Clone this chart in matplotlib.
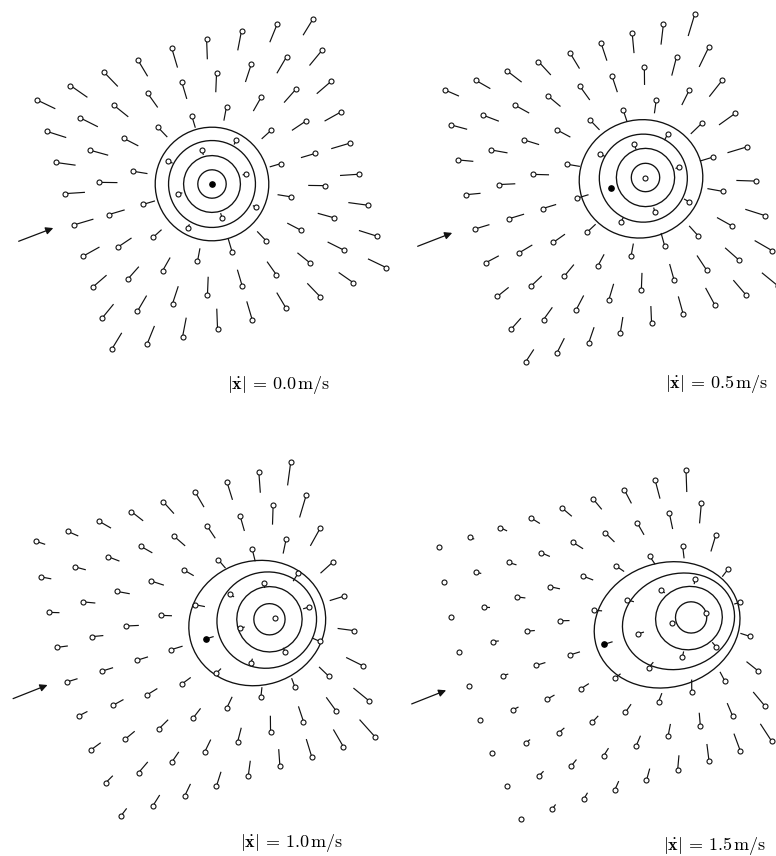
import numpy as np
import matplotlib.pyplot as plt
from matplotlib.patches import Ellipse
from matplotlib.collections import LineCollection
from matplotlib.transforms import Affine2D

plt.rcParams["mathtext.fontset"] = "cm"

# speed of the robot in each panel (m/s)
speeds = ["0.0", "0.5", "1.0", "1.5"]

# 9 x 9 sample grid in the robot frame (x = heading, y = left), index -4..4
grid_idx = np.arange(-4, 5)

# grid pitch (m): along the heading for each row, across it for each column
pitch_along = [
    [0.253, 0.253, 0.253, 0.253, 0.253, 0.253, 0.253, 0.253, 0.252],
    [0.230, 0.237, 0.243, 0.248, 0.250, 0.249, 0.246, 0.240, 0.232],
    [0.235, 0.244, 0.250, 0.254, 0.255, 0.254, 0.250, 0.243, 0.234],
    [0.228, 0.237, 0.244, 0.248, 0.250, 0.249, 0.245, 0.238, 0.231],
]
pitch_across = [
    [0.229, 0.237, 0.243, 0.247, 0.249, 0.247, 0.244, 0.237, 0.228],
    [0.250, 0.250, 0.250, 0.250, 0.249, 0.250, 0.250, 0.250, 0.250],
    [0.253, 0.253, 0.253, 0.253, 0.253, 0.253, 0.253, 0.253, 0.253],
    [0.250, 0.250, 0.250, 0.250, 0.251, 0.250, 0.250, 0.250, 0.250],
]

# contour rings: centre along the heading (m) and semi-axes (m), inner -> outer
ring_center = [
    [0.0, 0.0, 0.0, 0.0],
    [0.256, 0.256, 0.240, 0.223],
    [0.470, 0.470, 0.450, 0.380],
    [0.640, 0.624, 0.547, 0.463],
]
ring_a = [
    [0.100, 0.200, 0.306, 0.400],
    [0.100, 0.205, 0.310, 0.437],
    [0.110, 0.230, 0.352, 0.486],
    [0.110, 0.236, 0.400, 0.520],
]
ring_b = [
    [0.100, 0.200, 0.306, 0.400],
    [0.100, 0.205, 0.310, 0.415],
    [0.110, 0.230, 0.338, 0.437],
    [0.110, 0.222, 0.334, 0.437],
]

# stem length at each grid point (rows top -> bottom, columns back -> front)
stem_len = [
    [[.60, .62, .60, .58, .60, .60, .60, .58, .57],
     [.62, .60, .56, .52, .52, .58, .57, .58, .60],
     [.60, .58, .50, .42, .36, .43, .48, .55, .58],
     [.60, .55, .43, .17, .15, .15, .38, .50, .55],
     [.60, .50, .37, .15, .00, .12, .35, .45, .58],
     [.55, .48, .35, .12, .15, .12, .40, .50, .57],
     [.55, .50, .45, .40, .40, .40, .45, .52, .60],
     [.55, .55, .55, .55, .50, .48, .50, .55, .58],
     [.58, .57, .58, .60, .57, .55, .55, .53, .60]],
    [[.47, .50, .55, .55, .56, .57, .60, .63, .68],
     [.50, .50, .47, .50, .50, .50, .55, .58, .66],
     [.46, .50, .47, .45, .40, .35, .40, .50, .63],
     [.45, .48, .48, .40, .15, .18, .22, .45, .60],
     [.46, .48, .42, .37, .00, .00, .10, .40, .60],
     [.45, .45, .43, .35, .15, .13, .16, .46, .60],
     [.43, .45, .45, .40, .37, .40, .40, .50, .62],
     [.45, .45, .48, .50, .50, .50, .53, .57, .60],
     [.45, .48, .50, .50, .52, .56, .58, .60, .62]],
    [[.30, .35, .40, .45, .48, .53, .56, .62, .70],
     [.30, .35, .38, .40, .45, .45, .48, .58, .70],
     [.32, .38, .40, .42, .32, .33, .37, .45, .60],
     [.32, .35, .38, .34, .30, .16, .14, .30, .50],
     [.32, .35, .36, .36, .25, .14, .00, .20, .45],
     [.30, .36, .35, .33, .20, .13, .14, .25, .50],
     [.35, .37, .38, .37, .36, .30, .27, .40, .55],
     [.30, .42, .38, .42, .44, .48, .48, .52, .62],
     [.27, .38, .40, .45, .47, .52, .55, .60, .70]],
    [[.03, .15, .22, .30, .38, .40, .47, .58, .65],
     [.03, .15, .25, .30, .37, .40, .42, .50, .62],
     [.05, .18, .25, .30, .32, .28, .30, .38, .50],
     [.05, .18, .25, .28, .25, .20, .15, .15, .30],
     [.05, .18, .28, .30, .26, .18, .10, .05, .18],
     [.07, .17, .25, .28, .22, .22, .18, .18, .30],
     [.05, .17, .22, .27, .30, .28, .36, .32, .45],
     [.05, .20, .25, .28, .35, .37, .40, .42, .55],
     [.03, .17, .23, .28, .37, .45, .50, .55, .62]],
]

# layout
W, H = 776, 856
PX_PER_M = 142.0
STEM_SCALE = 0.235
heading = [16.5, 16.8, 17.2, 17.2]
panel_box = [(0, 0), (388, 0), (0, 428), (388, 428)]
dot_px = [(212, 184), (610.7, 188), (205.7, 639), (604.3, 644.3)]
label_px = [(279, 385), (717, 384), (292, 843), (715, 846)]

fig = plt.figure(figsize=(W / 100, H / 100), dpi=100)
fig.patch.set_facecolor("white")

for i in range(4):
    L, T = panel_box[i]
    pw, ph = 388, 428
    ax = fig.add_axes([L / W, 1 - (T + ph) / H, pw / W, ph / H])
    dx, dy = dot_px[i]
    ax.set_xlim((L - dx) / PX_PER_M, (L + pw - dx) / PX_PER_M)
    ax.set_ylim((dy - (T + ph)) / PX_PER_M, (dy - T) / PX_PER_M)
    ax.set_aspect("auto")
    ax.axis("off")

    tr = Affine2D().rotate_deg(heading[i]) + ax.transData
    target = ring_center[i][0]

    xs, ys, segs = [], [], []
    for r, gy in enumerate(grid_idx[::-1]):
        for c, gx in enumerate(grid_idx):
            x = gx * pitch_along[i][r]
            y = gy * pitch_across[i][c]
            xs.append(x)
            ys.append(y)
            vx, vy = target - x, -y
            n = np.hypot(vx, vy)
            ln = stem_len[i][r][c] * STEM_SCALE
            if n > 1e-9 and ln > 0:
                segs.append([(x, y), (x + vx / n * ln, y + vy / n * ln)])

    lc = LineCollection(segs, colors="#111111", linewidths=0.85,
                        transform=tr, clip_on=False, zorder=2)
    ax.add_collection(lc)

    xs = np.array(xs)
    ys = np.array(ys)
    centre = (xs == 0) & (ys == 0)
    ax.plot(xs[~centre], ys[~centre], "o", ms=3.6, mfc="white", mec="#111111",
            mew=0.8, transform=tr, clip_on=False, zorder=3)
    ax.plot(xs[centre], ys[centre], "o", ms=3.8, mfc="black", mec="black",
            transform=tr, clip_on=False, zorder=4)

    for k in range(4):
        e = Ellipse((ring_center[i][k], 0), 2 * ring_a[i][k], 2 * ring_b[i][k],
                    fill=False, ec="#111111", lw=0.95, transform=tr,
                    clip_on=False, zorder=1)
        ax.add_patch(e)

    ax.annotate("", xy=(-1.16, 0.02), xytext=(-1.42, 0.0),
                xycoords=tr, textcoords=tr,
                arrowprops=dict(arrowstyle="-|>", color="#111111", lw=0.9,
                                mutation_scale=11, shrinkA=0, shrinkB=0))

    lx, ly = label_px[i]
    fig.text(lx / W, 1 - ly / H,
             r"$|\dot{\mathbf{x}}|\,=\,\mathrm{" + speeds[i] + r"}\,\mathrm{m/s}$",
             ha="center", va="center", fontsize=13)

fig.savefig("out.png", dpi=100, facecolor="white")
